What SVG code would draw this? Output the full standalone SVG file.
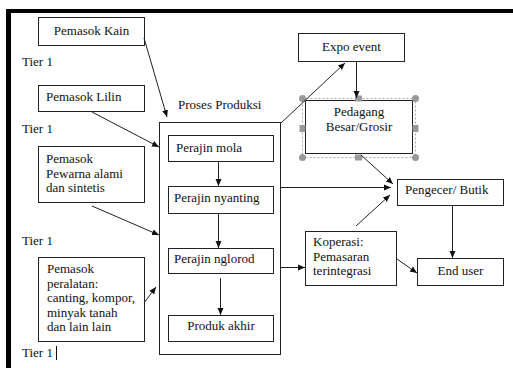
<svg xmlns="http://www.w3.org/2000/svg" width="513" height="368" viewBox="0 0 513 368" font-family="'Liberation Serif', 'Times New Roman', serif" font-size="13">
<defs>
<marker id="ah" markerWidth="8" markerHeight="8" refX="7" refY="4" orient="auto" markerUnits="userSpaceOnUse">
<path d="M0,1 L7,4 L0,7 z" fill="#111"/>
</marker>
<style>
.b{fill:#fff;stroke:#222;stroke-width:1}
.t{font-family:'Liberation Serif','Times New Roman',serif;font-size:13px;fill:#111}
.c{text-anchor:middle}
.l{stroke:#222;stroke-width:1;fill:none;marker-end:url(#ah)}
.h{fill:#999}
</style>
</defs>
<rect width="513" height="368" fill="#fff"/>
<rect x="6" y="9" width="507" height="4" fill="#000"/>
<rect x="6" y="9" width="5" height="359" fill="#000"/>

<g id="tiers">
<text class="t" x="22" y="66">Tier 1</text>
<text class="t" x="22" y="133">Tier 1</text>
<text class="t" x="22" y="245">Tier 1</text>
<text class="t" x="22" y="357">Tier 1</text>
<line x1="56.5" y1="346" x2="56.5" y2="360" stroke="#111" stroke-width="1"/>
</g>

<g id="kain"><rect class="b" x="38.5" y="17.5" width="106" height="28"/><text class="t c" x="91.5" y="35">Pemasok Kain</text></g>
<g id="lilin"><rect class="b" x="38.5" y="85.5" width="106" height="26"/><text class="t" x="46" y="101">Pemasok Lilin</text></g>
<g id="pewarna"><rect class="b" x="38.5" y="146.5" width="106" height="56"/><text class="t" x="46" y="163">Pemasok</text><text class="t" x="46" y="177.5">Pewarna alami</text><text class="t" x="46" y="192">dan sintetis</text></g>
<g id="peralatan"><rect class="b" x="38.5" y="257.5" width="106" height="84"/><text class="t" x="47" y="273">Pemasok</text><text class="t" x="47" y="287.5">peralatan:</text><text class="t" x="47" y="302">canting, kompor,</text><text class="t" x="47" y="316.5">minyak tanah</text><text class="t" x="47" y="331">dan lain lain</text></g>

<g id="proses">
<text class="t" x="178" y="109">Proses Produksi</text>
<rect class="b" x="159.5" y="122.5" width="121" height="232"/>
</g>
<g id="mola"><rect class="b" x="168.5" y="135.5" width="105" height="26"/><text class="t" x="176" y="152">Perajin mola</text></g>
<g id="nyanting"><rect class="b" x="168.5" y="186.5" width="105" height="27"/><text class="t" x="174" y="202">Perajin nyanting</text></g>
<g id="nglorod"><rect class="b" x="168.5" y="248.5" width="105" height="25"/><text class="t" x="174" y="263">Perajin nglorod</text></g>
<g id="produk"><rect class="b" x="168.5" y="315.5" width="105" height="26"/><text class="t c" x="221" y="330">Produk akhir</text></g>

<g id="expo"><rect class="b" x="298.5" y="33.5" width="106" height="28"/><text class="t c" x="351.5" y="51">Expo event</text></g>
<g id="pedagang">
<rect x="302.5" y="98.5" width="113" height="59" fill="none" stroke="#aaa" stroke-width="1" stroke-dasharray="2,2"/>
<rect class="b" x="305.5" y="100.5" width="107" height="53"/>
<text class="t c" x="359" y="116">Pedagang</text><text class="t c" x="359" y="131">Besar/Grosir</text>
<circle class="h" cx="302.5" cy="98.5" r="3.5"/><circle class="h" cx="415.5" cy="98.5" r="3.5"/><circle class="h" cx="302.5" cy="157.5" r="3.5"/><circle class="h" cx="415.5" cy="157.5" r="3.5"/>
<rect class="h" x="355" y="95.5" width="7" height="6"/><rect class="h" x="355" y="154.5" width="7" height="6"/><rect class="h" x="299.5" y="125" width="6" height="7"/><rect class="h" x="412.5" y="125" width="6" height="7"/>
</g>
<g id="pengecer"><rect class="b" x="397.5" y="179.5" width="106" height="26"/><text class="t" x="405" y="194">Pengecer/ Butik</text></g>
<g id="koperasi"><rect class="b" x="305.5" y="231.5" width="91" height="54"/><text class="t" x="313" y="246">Koperasi:</text><text class="t" x="313" y="260.5">Pemasaran</text><text class="t" x="313" y="275">terintegrasi</text></g>
<g id="enduser"><rect class="b" x="417.5" y="258.5" width="86" height="27"/><text class="t c" x="460.5" y="275">End user</text></g>

<g id="connectors">
<line class="l" x1="144" y1="38" x2="167" y2="117"/>
<line class="l" x1="92" y1="112" x2="159" y2="147"/>
<line class="l" x1="92" y1="206" x2="159" y2="235"/>
<line class="l" x1="144" y1="303" x2="156" y2="287"/>
<line class="l" x1="218.5" y1="162" x2="218.5" y2="186"/>
<line class="l" x1="218.5" y1="214" x2="218.5" y2="248"/>
<line class="l" x1="220.5" y1="278" x2="220.5" y2="315"/>
<line class="l" x1="281" y1="123" x2="345" y2="63"/>
<line class="l" x1="356.5" y1="62" x2="356.5" y2="98"/>
<line class="l" x1="361" y1="155" x2="393" y2="184"/>
<line class="l" x1="281" y1="187.5" x2="391" y2="187.5"/>
<line class="l" x1="356" y1="226" x2="390" y2="195"/>
<line class="l" x1="281" y1="267.5" x2="305" y2="267.5"/>
<line class="l" x1="452.5" y1="206" x2="452.5" y2="258"/>
<line class="l" x1="397" y1="259" x2="417" y2="273"/>
</g>
</svg>
